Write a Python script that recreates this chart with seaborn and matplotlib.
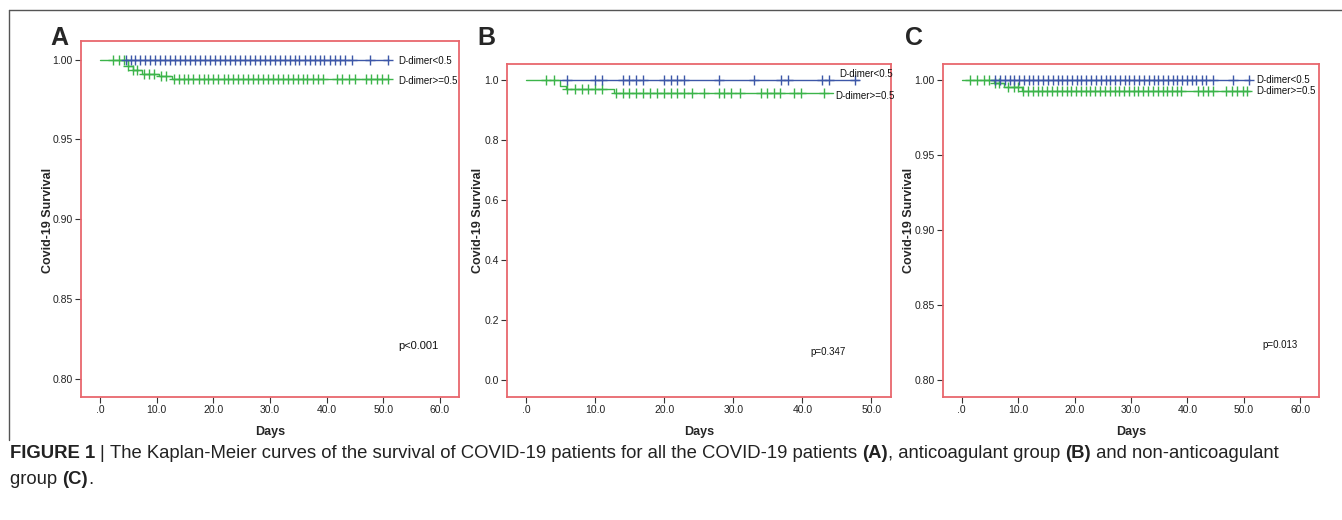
import seaborn as sns
import matplotlib.pyplot as plt
import numpy as np
import pandas as pd

# Kaplan-Meier step curves (event times and survival level after each step)
a_low_t = [4.6, 51.0]
a_low_s = [1.0, 1.0]
a_high_t = [0.0, 4.9, 5.8, 7.4, 10.5, 12.7, 51.0]
a_high_s = [1.0, 0.9961, 0.9932, 0.9910, 0.9897, 0.9876, 0.9876]

b_low_t = [4.9, 48.2]
b_low_s = [1.0, 1.0]
b_high_t = [0.0, 4.9, 5.8, 12.7, 44.5]
b_high_s = [1.0, 0.980, 0.971, 0.956, 0.956]

c_low_t = [5.2, 51.0]
c_low_s = [1.0, 1.0]
c_high_t = [0.0, 5.65, 7.5, 10.7, 51.0]
c_high_s = [1.0, 0.9980, 0.9953, 0.9931, 0.9931]

# censored observations (days)
a_low_cens = [4.6, 5.4, 6.2, 7.1, 8.0, 8.9, 9.7, 10.6, 11.5, 12.4, 13.2, 14.1,
              15.0, 15.9, 16.8, 17.6, 18.5, 19.4, 20.3, 21.2, 22.0, 22.9, 23.8,
              24.7, 25.6, 26.4, 27.3, 28.2, 29.1, 30.0, 30.8, 31.7, 32.6, 33.5,
              34.4, 35.2, 36.1, 37.0, 37.9, 38.8, 39.6, 40.5, 41.4, 42.3, 43.2,
              44.4, 47.6, 50.8]
a_high_cens = [2.3, 3.4, 4.2, 4.9, 5.8, 6.5, 7.7, 8.6, 9.6, 10.8, 11.6, 13.0,
               13.9, 14.8, 15.6, 16.5, 17.4, 18.3, 19.1, 20.0, 20.9, 21.8, 22.6,
               23.5, 24.4, 25.3, 26.1, 27.0, 27.9, 28.8, 29.6, 30.5, 31.4, 32.3,
               33.1, 34.0, 34.9, 35.8, 36.6, 37.5, 38.4, 39.3, 41.8, 42.7, 43.9,
               45.0, 46.9, 47.8, 48.8, 49.8, 50.8]

b_low_cens = [5.9, 10.0, 11.0, 14.0, 14.9, 15.9, 16.9, 19.9, 20.9, 21.9, 22.9,
              27.9, 33.0, 36.9, 37.9, 42.9, 43.9, 47.7]
b_high_cens = [2.9, 4.0, 5.9, 7.0, 8.0, 9.0, 10.0, 11.0, 13.0, 14.0, 14.9, 15.9,
               16.9, 17.9, 18.9, 19.9, 20.9, 21.9, 22.9, 24.0, 25.8, 27.9, 28.7,
               29.7, 31.0, 34.0, 34.9, 35.9, 36.8, 38.8, 39.8, 43.1]

c_low_cens = [5.9, 6.8, 7.6, 8.5, 9.3, 10.2, 11.0, 11.9, 12.7, 13.6, 14.4, 15.3,
              16.1, 17.0, 17.8, 18.7, 19.5, 20.4, 21.2, 22.1, 22.9, 23.8, 24.6,
              25.5, 26.3, 27.2, 28.0, 28.9, 29.7, 30.6, 31.4, 32.3, 33.1, 34.0,
              34.8, 35.7, 36.5, 37.4, 38.2, 39.1, 39.9, 40.8, 41.6, 42.5, 43.3,
              44.6, 48.1, 50.9]
c_high_cens = [1.5, 2.7, 3.9, 4.8, 5.95, 6.65, 8.3, 9.2, 9.9, 10.9, 11.8, 12.6,
               13.5, 14.3, 15.2, 16.0, 16.9, 17.7, 18.6, 19.4, 20.3, 21.1, 22.0,
               22.8, 23.7, 24.5, 25.4, 26.2, 27.1, 27.9, 28.8, 29.6, 30.5, 31.3,
               32.2, 33.0, 33.9, 34.7, 35.6, 36.4, 37.3, 38.1, 38.9, 41.9, 42.7,
               43.6, 44.5, 46.9, 47.9, 48.8, 49.8, 50.6]

p_values = ["p<0.001", "p=0.347", "p=0.013"]
panel_letters = ["A", "B", "C"]
group_names = ["D-dimer<0.5", "D-dimer>=0.5"]

BLUE = "#3d57a8"
GREEN = "#3cb44a"
RED = "#e8676d"

sns.set_style("white")
plt.rcParams["font.family"] = ["Liberation Sans Narrow", "Liberation Sans", "DejaVu Sans"]

fig = plt.figure(figsize=(13.42, 5.20), dpi=100)
W, H = 1342, 520


def px_axes(x0, y0, x1, y1):
    return fig.add_axes([x0 / W, 1 - y1 / H, (x1 - x0) / W, (y1 - y0) / H])


def step_value(t, s, x):
    i = np.searchsorted(t, x, side="right") - 1
    return np.asarray(s)[np.clip(i, 0, len(s) - 1)]


panels = [
    dict(ax=px_axes(81, 41, 459, 397), low=(a_low_t, a_low_s, a_low_cens),
         high=(a_high_t, a_high_s, a_high_cens), xlim=(-3.35, 63.35),
         ylim=(0.7888, 1.0116), xt=[0, 10, 20, 30, 40, 50, 60],
         yt=[0.80, 0.85, 0.90, 0.95, 1.00], yfmt="{:.2f}",
         lab=[(52.6, 0.9991), (52.6, 0.9866)], pv=(52.6, 0.8206, 8),
         letter=(50, 38), ylab_x=48),
    dict(ax=px_axes(507, 64, 891, 397), low=(b_low_t, b_low_s, b_low_cens),
         high=(b_high_t, b_high_s, b_high_cens), xlim=(-2.8, 52.85),
         ylim=(-0.056, 1.054), xt=[0, 10, 20, 30, 40, 50],
         yt=[0.0, 0.2, 0.4, 0.6, 0.8, 1.0], yfmt="{:.1f}",
         lab=[(45.4, 1.021), (44.8, 0.948)], pv=(41.2, 0.093, 7),
         letter=(477, 38), ylab_x=478),
    dict(ax=px_axes(943, 64, 1319, 397), low=(c_low_t, c_low_s, c_low_cens),
         high=(c_high_t, c_high_s, c_high_cens), xlim=(-3.3, 63.3),
         ylim=(0.7889, 1.0109), xt=[0, 10, 20, 30, 40, 50, 60],
         yt=[0.80, 0.85, 0.90, 0.95, 1.00], yfmt="{:.2f}",
         lab=[(52.2, 1.0000), (52.1, 0.9929)], pv=(53.2, 0.8233, 7),
         letter=(905, 38), ylab_x=909),
]

for i, p in enumerate(panels):
    ax = p["ax"]
    for (t, s, cens), color in [(p["high"], GREEN), (p["low"], BLUE)]:
        curve = pd.DataFrame({"Days": t, "Survival": s})
        sns.lineplot(data=curve, x="Days", y="Survival", drawstyle="steps-post",
                     color=color, linewidth=1.0, estimator=None, ax=ax)
        cdf = pd.DataFrame({"Days": cens, "Survival": step_value(t, s, cens)})
        sns.scatterplot(data=cdf, x="Days", y="Survival", marker="+", s=50,
                        color=color, linewidth=1.0, ax=ax, zorder=3)
    ax.set_xlim(*p["xlim"])
    ax.set_ylim(*p["ylim"])
    ax.set_xticks(p["xt"])
    ax.set_xticklabels([".0" if v == 0 else f"{v:.1f}" for v in p["xt"]])
    ax.set_yticks(p["yt"])
    ax.set_yticklabels([p["yfmt"].format(v) for v in p["yt"]])
    ax.tick_params(axis="both", which="major", direction="out", length=4,
                   width=0.8, color="#333333", labelsize=7.5, pad=2,
                   left=True, bottom=True, labelcolor="#222222")
    for sp in ax.spines.values():
        sp.set_color(RED)
        sp.set_linewidth(1.3)
    ax.set_xlabel("Days", fontsize=9, fontweight="bold", labelpad=8)
    ax.set_ylabel("")
    fig.text(p["ylab_x"] / W, 1 - 220 / H, "Covid-19 Survival", rotation=90,
             fontsize=9, fontweight="bold", ha="center", va="center")
    for (lx, ly), name in zip(p["lab"], group_names):
        ax.text(lx, ly, name, fontsize=7, ha="left", va="center", color="#111111")
    px, py, pfs = p["pv"]
    ax.text(px, py, p_values[i], fontsize=pfs, ha="left", va="center", color="#111111")
    lx, ly = p["letter"]
    fig.text(lx / W, 1 - ly / H, panel_letters[i], fontsize=18, fontweight="bold",
             family=["Liberation Sans", "DejaVu Sans"], ha="left", va="center")

# outer figure frame (top and left)
fig.add_artist(plt.Line2D([9 / W, 1.0], [1 - 10 / H, 1 - 10 / H], color="#555555", lw=1.0))
fig.add_artist(plt.Line2D([9 / W, 9 / W], [1 - 10 / H, 1 - 440 / H], color="#555555", lw=1.0))

# caption with mixed bold runs
renderer = fig.canvas.get_renderer()
cap_lines = [
    [("FIGURE 1 ", "bold"), ("| ", "normal"),
     ("The Kaplan-Meier curves of the survival of COVID-19 patients for all the COVID-19 patients ", "normal"),
     ("(A)", "bold"), (", anticoagulant group ", "normal"), ("(B)", "bold"),
     (" and non-anticoagulant", "normal")],
    [("group ", "normal"), ("(C)", "bold"), (".", "normal")],
]
for line, ypx in zip(cap_lines, [453, 479]):
    x = 10 / W
    for txt, wt in line:
        t = fig.text(x, 1 - ypx / H, txt, fontsize=13.3, fontweight=wt,
                     family=["Liberation Sans", "DejaVu Sans"], ha="left", va="center",
                     color="#222222")
        bb = t.get_window_extent(renderer=renderer)
        x += bb.width / W

plt.savefig("out.png", dpi=100)
